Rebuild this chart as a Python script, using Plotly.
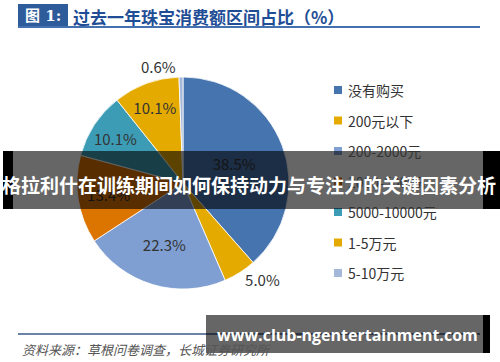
import plotly.graph_objects as go

# ---------------- data ----------------
categories = ["没有购买", "200元以下", "200-2000元", "2000-5000元", "5000-10000元", "1-5万元", "5-10万元"]
shares = [38.5, 5.0, 22.3, 13.4, 10.1, 10.1, 0.6]
colors = ["#4674AE", "#E5AA00", "#7F9FD2", "#DC7400", "#3D9CB5", "#E5AA00", "#A6B8DA"]
label_pos = ["inside", "outside", "inside", "inside", "inside", "inside", "outside"]

title_tag = "图 1:"
title_text = "过去一年珠宝消费额区间占比（%）"
source_text = "资料来源：草根问卷调查，长城证券研究所"
banner_text = "格拉利什在训练期间如何保持动力与专注力的关键因素分析"
url_text = "www.club-ngentertainment.com"

W, H = 500, 362
CJK = "Noto Sans CJK SC, Noto Sans, sans-serif"


def px(x):
    return x / W


def py(y):
    return 1 - y / H


# pie placement (pixels)
cx, cy, r = 183, 183, 106

fig = go.Figure()
fig.add_trace(go.Pie(
    labels=categories,
    values=shares,
    sort=False,
    direction="clockwise",
    rotation=0,
    marker=dict(colors=colors, line=dict(color="white", width=0.8)),
    texttemplate="%{value:.1f}%",
    textposition=label_pos,
    insidetextorientation="horizontal",
    textfont=dict(family=CJK, size=15, color="#333333"),
    outsidetextfont=dict(family=CJK, size=15, color="#333333"),
    domain=dict(x=[px(cx - r), px(cx + r)], y=[py(cy + r), py(cy - r)]),
    showlegend=False,
    hoverinfo="label+percent",
))

shapes = []
annotations = []

# title block
shapes.append(dict(type="rect", xref="paper", yref="paper",
                   x0=px(18), x1=px(68), y0=py(27), y1=py(4),
                   fillcolor="#2E5B9A", line=dict(width=0)))
shapes.append(dict(type="line", xref="paper", yref="paper",
                   x0=px(18), x1=px(480), y0=py(27), y1=py(27),
                   line=dict(color="#4470B0", width=2)))
annotations.append(dict(xref="paper", yref="paper", x=px(43), y=py(16),
                        text="<b>" + title_tag + "</b>", showarrow=False,
                        xanchor="center", yanchor="middle",
                        font=dict(family="DejaVu Serif, " + CJK, size=15, color="white")))
annotations.append(dict(xref="paper", yref="paper", x=px(71), y=py(16),
                        text="<b>" + title_text + "</b>", showarrow=False,
                        xanchor="left", yanchor="middle",
                        font=dict(family=CJK, size=17, color="#1F4E96")))

# legend (manual)
leg_y0, leg_dy = 90, 30.5
for i, (lab, col) in enumerate(zip(categories, colors)):
    yy = leg_y0 + i * leg_dy
    shapes.append(dict(type="rect", xref="paper", yref="paper",
                       x0=px(334), x1=px(342), y0=py(yy + 4), y1=py(yy - 4),
                       fillcolor=col, line=dict(width=0)))
    annotations.append(dict(xref="paper", yref="paper", x=px(346), y=py(yy),
                            text=lab, showarrow=False, xanchor="left", yanchor="middle",
                            font=dict(family=CJK, size=14, color="#333333")))

# footer
shapes.append(dict(type="line", xref="paper", yref="paper",
                   x0=px(18), x1=px(480), y0=py(334), y1=py(334),
                   line=dict(color="#3A5A8A", width=1.5)))
annotations.append(dict(xref="paper", yref="paper", x=px(20), y=py(349),
                        text="<i>" + source_text + "</i>", showarrow=False,
                        xanchor="left", yanchor="middle",
                        font=dict(family=CJK, size=13, color="#555555")))

# overlay banner
shapes.append(dict(type="rect", xref="paper", yref="paper",
                   x0=px(3), x1=px(13), y0=py(209), y1=py(151),
                   fillcolor="black", line=dict(width=0), layer="above"))
shapes.append(dict(type="rect", xref="paper", yref="paper",
                   x0=px(483), x1=px(500), y0=py(209), y1=py(151),
                   fillcolor="black", line=dict(width=0), layer="above"))
shapes.append(dict(type="rect", xref="paper", yref="paper",
                   x0=px(13), x1=px(483), y0=py(209), y1=py(151),
                   fillcolor="rgba(0,0,0,0.6)", line=dict(width=0), layer="above"))
annotations.append(dict(xref="paper", yref="paper", x=px(249), y=py(184),
                        text="<b>" + banner_text + "</b>", showarrow=False,
                        xanchor="center", yanchor="middle",
                        font=dict(family=CJK, size=19, color="white")))

# bottom url box
shapes.append(dict(type="rect", xref="paper", yref="paper",
                   x0=px(483), x1=px(490), y0=py(353), y1=py(315),
                   fillcolor="black", line=dict(width=0), layer="above"))
shapes.append(dict(type="rect", xref="paper", yref="paper",
                   x0=px(206), x1=px(483), y0=py(353), y1=py(315),
                   fillcolor="rgba(0,0,0,0.6)", line=dict(width=0), layer="above"))
annotations.append(dict(xref="paper", yref="paper", x=px(347), y=py(335),
                        text="<b>" + url_text + "</b>", showarrow=False,
                        xanchor="center", yanchor="middle",
                        font=dict(family="Open Sans, DejaVu Sans, sans-serif", size=16, color="white")))

fig.update_layout(
    width=W, height=H, autosize=False,
    margin=dict(l=0, r=0, t=0, b=0),
    paper_bgcolor="white", plot_bgcolor="white",
    shapes=shapes, annotations=annotations,
)

fig.write_html("out.html", config={"displayModeBar": False},
               post_script="document.body.style.margin='0';document.body.style.overflow='hidden';")
